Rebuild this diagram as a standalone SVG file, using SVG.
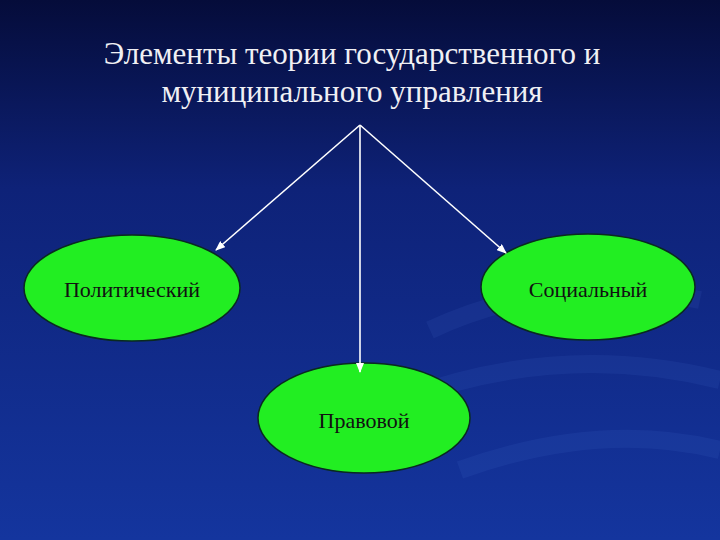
<svg xmlns="http://www.w3.org/2000/svg" width="720" height="540" viewBox="0 0 720 540">
<defs>
<linearGradient id="bg" x1="0" y1="0" x2="0" y2="1">
<stop offset="0" stop-color="#050c3a"/>
<stop offset="0.35" stop-color="#0e2278"/>
<stop offset="1" stop-color="#14359e"/>
</linearGradient>
<marker id="ah" markerWidth="10" markerHeight="8" refX="9" refY="4" orient="auto" markerUnits="userSpaceOnUse">
<path d="M0,0 L10,4 L0,8 Z" fill="#ffffff"/>
</marker>
</defs>
<style>
.t{font-family:"Liberation Serif",serif;fill:#f0f0f4;text-anchor:middle}
.l{font-family:"Liberation Serif",serif;fill:#111111;text-anchor:middle}
.n{fill:#22ee22;stroke:#0a2a20;stroke-width:1.5}
.c{stroke:#ffffff;stroke-width:1.6;fill:none;marker-end:url(#ah)}
</style>
<rect width="720" height="540" fill="url(#bg)"/>
<g opacity="0.07" fill="none" stroke="#6fa0ff" stroke-width="18">
<path d="M430,330 Q560,270 700,300"/>
<path d="M400,400 Q560,340 720,380"/>
<path d="M460,470 Q600,420 720,450"/>
</g>
<g id="title">
<text class="t" x="352" y="64" font-size="31">Элементы теории государственного и</text>
<text class="t" x="352" y="102" font-size="31">муниципального управления</text>
</g>
<g id="n1"><ellipse class="n" cx="132" cy="288" rx="108" ry="53"/><text class="l" x="132" y="297" font-size="22">Политический</text></g>
<g id="n2"><ellipse class="n" cx="588" cy="287" rx="107" ry="53"/><text class="l" x="588" y="297" font-size="22">Социальный</text></g>
<g id="n3"><ellipse class="n" cx="364" cy="418" rx="106" ry="55"/><text class="l" x="364" y="428" font-size="22">Правовой</text></g>
<g id="connectors">
<line class="c" x1="360" y1="125" x2="216" y2="250"/>
<line class="c" x1="360" y1="125" x2="360" y2="372"/>
<line class="c" x1="360" y1="125" x2="506" y2="253"/>
</g>
</svg>
